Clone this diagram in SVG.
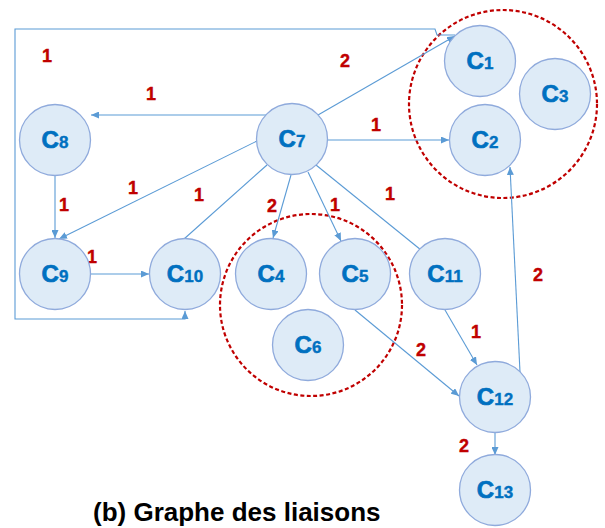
<svg xmlns="http://www.w3.org/2000/svg" width="605" height="528" viewBox="0 0 605 528">
<style>
.node circle{fill:#DEEBF7;stroke:#8FAADC;stroke-width:1.3}
.node text{font-family:"Liberation Sans",Arial,sans-serif;font-weight:bold;fill:#0070C0;stroke:#0070C0;stroke-width:0.7;text-anchor:middle;font-size:24px}
.node text tspan.s{font-size:17px;stroke-width:0.4}
.edge{fill:none;stroke:#5B9BD5;stroke-width:1.1}
.w{font-family:"Liberation Sans",Arial,sans-serif;font-weight:bold;fill:#C00000;stroke:#C00000;stroke-width:0.4;font-size:18px;text-anchor:middle}
.grp{fill:none;stroke:#C00000;stroke-width:2.2;stroke-dasharray:4 2.5}
.cap{font-family:"Liberation Sans",Arial,sans-serif;font-weight:bold;fill:#000;font-size:26px}
</style>
<defs>
<marker id="ar" markerUnits="userSpaceOnUse" markerWidth="9" markerHeight="7" refX="8" refY="3.5" orient="auto">
<path d="M0,0 L8,3.5 L0,7 z" fill="#5B9BD5"/>
</marker>
</defs>
<g id="groups">
<circle class="grp" cx="503" cy="104" r="94"/>
<circle class="grp" cx="311" cy="305" r="91"/>
</g>
<g id="connectors">
<path class="edge" d="M455,35 L437,35 L435,29 L15,29 L15,319 L185,319 L185,311" marker-end="url(#ar)"/>
<line class="edge" x1="318" y1="115" x2="455" y2="36" marker-end="url(#ar)"/>
<line class="edge" x1="266" y1="115" x2="91" y2="115" marker-end="url(#ar)"/>
<line class="edge" x1="328" y1="140" x2="449" y2="140" marker-end="url(#ar)"/>
<line class="edge" x1="257" y1="141" x2="59" y2="239" marker-end="url(#ar)"/>
<line class="edge" x1="55" y1="176" x2="55" y2="238" marker-end="url(#ar)"/>
<line class="edge" x1="267" y1="165" x2="184" y2="239"/>
<line class="edge" x1="291" y1="175" x2="273" y2="238" marker-end="url(#ar)"/>
<line class="edge" x1="308" y1="172" x2="341" y2="241" marker-end="url(#ar)"/>
<line class="edge" x1="316" y1="165" x2="421" y2="250"/>
<line class="edge" x1="91" y1="274" x2="149" y2="274" marker-end="url(#ar)"/>
<line class="edge" x1="445" y1="310" x2="477" y2="365" marker-end="url(#ar)"/>
<line class="edge" x1="355" y1="310" x2="459" y2="396" marker-end="url(#ar)"/>
<line class="edge" x1="520" y1="372" x2="510" y2="167" marker-end="url(#ar)"/>
<line class="edge" x1="495" y1="433" x2="495" y2="455" marker-end="url(#ar)"/>
</g>
<g id="weights">
<text class="w" x="47" y="62">1</text>
<text class="w" x="151" y="100">1</text>
<text class="w" x="345" y="67">2</text>
<text class="w" x="376" y="131">1</text>
<text class="w" x="133" y="194">1</text>
<text class="w" x="199" y="201">1</text>
<text class="w" x="272" y="212">2</text>
<text class="w" x="335" y="211">1</text>
<text class="w" x="390" y="200">1</text>
<text class="w" x="64" y="211">1</text>
<text class="w" x="92" y="263">1</text>
<text class="w" x="196" y="262">1</text>
<text class="w" x="538" y="281">2</text>
<text class="w" x="476" y="338">1</text>
<text class="w" x="421" y="356">2</text>
<text class="w" x="464" y="452">2</text>
</g>
<g id="C1" class="node"><circle cx="480" cy="61" r="35.5"/><text x="480" y="69">C<tspan class="s">1</tspan></text></g>
<g id="C2" class="node"><circle cx="485" cy="140" r="35.5"/><text x="485" y="148">C<tspan class="s">2</tspan></text></g>
<g id="C3" class="node"><circle cx="555" cy="94" r="35.5"/><text x="555" y="102">C<tspan class="s">3</tspan></text></g>
<g id="C4" class="node"><circle cx="271" cy="274" r="35.5"/><text x="271" y="282">C<tspan class="s">4</tspan></text></g>
<g id="C5" class="node"><circle cx="355" cy="274" r="35.5"/><text x="355" y="282">C<tspan class="s">5</tspan></text></g>
<g id="C6" class="node"><circle cx="308" cy="345" r="35.5"/><text x="308" y="353">C<tspan class="s">6</tspan></text></g>
<g id="C7" class="node"><circle cx="292" cy="139" r="35.5"/><text x="292" y="147">C<tspan class="s">7</tspan></text></g>
<g id="C8" class="node"><circle cx="55" cy="140" r="35.5"/><text x="55" y="148">C<tspan class="s">8</tspan></text></g>
<g id="C9" class="node"><circle cx="55" cy="274" r="35.5"/><text x="55" y="282">C<tspan class="s">9</tspan></text></g>
<g id="C10" class="node"><circle cx="185" cy="274" r="35.5"/><text x="185" y="282">C<tspan class="s">10</tspan></text></g>
<g id="C11" class="node"><circle cx="445" cy="274" r="35.5"/><text x="445" y="282">C<tspan class="s">11</tspan></text></g>
<g id="C12" class="node"><circle cx="495" cy="397" r="35.5"/><text x="495" y="405">C<tspan class="s">12</tspan></text></g>
<g id="C13" class="node"><circle cx="495" cy="490" r="35.5"/><text x="495" y="498">C<tspan class="s">13</tspan></text></g>
<text class="cap" x="93" y="521">(b) Graphe des liaisons</text>
</svg>
